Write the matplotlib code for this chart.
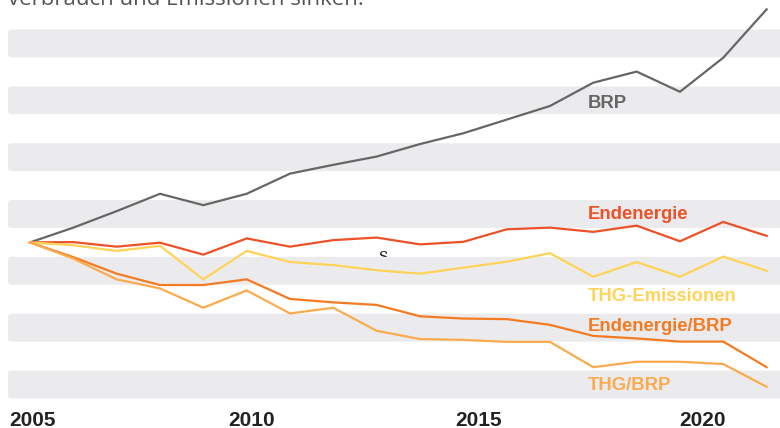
import matplotlib
matplotlib.use("Agg")
import matplotlib.pyplot as plt
from matplotlib.patches import FancyBboxPatch

# Daten (Index 2005 = 100)
years = list(range(2005, 2023))
brp = [100, 105.2, 111.0, 117.1, 113.1, 117.1, 124.2, 127.3, 130.2, 134.6,
       138.4, 143.2, 148.0, 156.2, 160.1, 153.0, 165.0, 182.0]
endenergie = [100, 100.1, 98.5, 99.9, 95.7, 101.4, 98.5, 100.8, 101.7, 99.3,
              100.2, 104.6, 105.2, 103.7, 105.9, 100.4, 107.2, 102.3]
thg = [100, 99.0, 97.0, 98.8, 87.0, 97.0, 93.1, 92.0, 90.2, 89.0,
       91.1, 93.2, 96.2, 87.9, 93.1, 87.9, 95.0, 90.0]
endenergie_brp = [100, 94.8, 89.0, 85.0, 85.0, 87.0, 80.1, 78.9, 78.0, 74.0,
                  73.2, 73.0, 71.0, 67.1, 66.2, 65.1, 65.1, 56.1]
thg_brp = [100, 94.3, 87.0, 83.8, 77.0, 83.1, 75.0, 77.0, 68.9, 66.0,
           65.7, 65.0, 65.0, 56.1, 58.0, 58.0, 57.2, 49.2]

series_names = ['BRP', 'Endenergie', 'THG-Emissionen', 'Endenergie/BRP', 'THG/BRP']
series_values = [brp, endenergie, thg, endenergie_brp, thg_brp]
series_colors = ['#666666', '#ec5128', '#ffd357', '#f47b22', '#fbab4d']
label_y = [147.2, 108.2, 79.5, 68.9, 48.1]

band_centers = [50, 70, 90, 110, 130, 150, 170]
tick_labels = ['2005', '2010', '2015', '2020']
tick_px = [33, 252, 478.5, 702.5]

W, H = 780, 428
fig = plt.figure(figsize=(W / 100, H / 100), dpi=100)
ax = fig.add_axes([0, 0, 1, 1])
ax.axis('off')

# Pixel-Skalierung
px_year = 43.33
px_unit = 2.842
y100 = 242.4
ax.set_xlim(2005 - 30 / px_year, 2005 + (W - 30) / px_year)
ax.set_ylim(100 - (H - y100) / px_unit, 100 + y100 / px_unit)

# graue Bänder
x_start = 2005 - 22 / px_year
for c in band_centers:
    band = FancyBboxPatch((x_start, c - 4.9), 30, 9.8,
                          boxstyle="round,pad=0,rounding_size=0.08",
                          mutation_aspect=px_year / px_unit,
                          fc='#ebebed', ec='none', zorder=1)
    ax.add_patch(band)

# kleines Artefakt hinter einem Band
ax.text(2013.15, 93.4, 's', family='DejaVu Serif', fontsize=13,
        color='#222222', ha='center', va='baseline', zorder=0)

for name, vals, col, ly in zip(series_names, series_values, series_colors, label_y):
    ax.plot(years, vals, color=col, lw=1.6, zorder=3, solid_joinstyle='miter')
    ax.text(2005 + 558 / px_year, ly, name, color=col, fontsize=13.3,
            fontweight='bold', family='Liberation Sans', va='baseline', zorder=4)

for lab, xp in zip(tick_labels, tick_px):
    fig.text(xp / W, 1 - 425.5 / H, lab, ha='center', va='baseline',
             fontsize=15, fontweight='bold', family='Liberation Sans', color='#222222')

fig.text(8 / W, 1 - 5 / H, 'verbrauch und Emissionen sinken.', ha='left', va='baseline',
         fontsize=16, family='Open Sans', color='#555555')

fig.savefig('out.png', dpi=100)
